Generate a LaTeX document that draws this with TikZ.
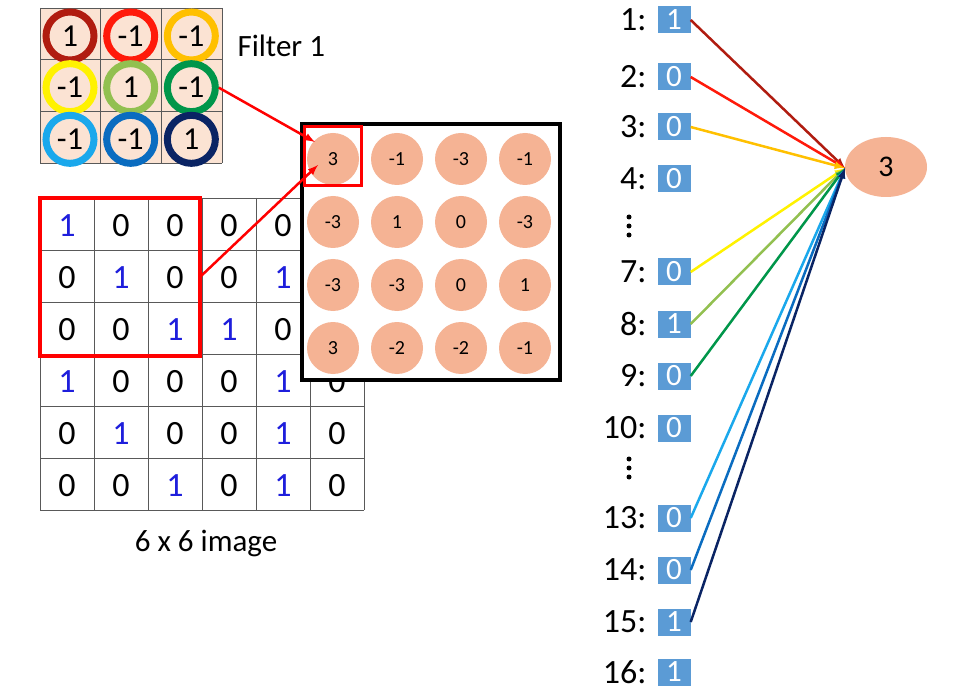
\documentclass[tikz,border=0pt]{standalone}
\usepackage{fontspec}
\setmainfont{Carlito}
\usetikzlibrary{positioning,calc,shapes.geometric}
\definecolor{cA}{HTML}{B01C10}
\definecolor{cB}{HTML}{FF1A0A}
\definecolor{cC}{HTML}{FFC000}
\definecolor{cD}{HTML}{FFF200}
\definecolor{cE}{HTML}{92C050}
\definecolor{cF}{HTML}{00964A}
\definecolor{cG}{HTML}{1AA8EC}
\definecolor{cH}{HTML}{0A6CC0}
\definecolor{cI}{HTML}{0A2464}
\definecolor{peach}{HTML}{FBE3D3}
\definecolor{salmon}{HTML}{F5B394}
\definecolor{boxblue}{HTML}{5B9BD5}
\definecolor{digblue}{HTML}{1E1EDC}
\tikzset{
    ring/.style={circle, draw=#1, line width=7pt, fill=peach, minimum size=48pt, inner sep=0pt, font=\fontsize{32}{32}\selectfont},
    fmap/.style={circle, fill=salmon, minimum size=52pt, inner sep=0pt, font=\fontsize{20}{20}\selectfont},
    pix/.style={font=\fontsize{34}{34}\selectfont},
    inbox/.style={fill=boxblue, text=white, minimum width=33pt, minimum height=27pt, inner sep=0pt, font=\fontsize{31}{31}\selectfont},
    idx/.style={anchor=east, font=\fontsize{34}{34}\selectfont},
    vdot/.style={circle, fill=black, inner sep=0pt, minimum size=5pt},
    redarrow/.style={red, line width=2.5pt, -latex},
}
\begin{document}
\begin{tikzpicture}[x=1pt,y=-1pt]
    \useasboundingbox[fill=white] (0,0) rectangle (968,700);
    % filter
    \fill[peach] (40,8) rectangle (222,163);
    \foreach \k in {0,...,3}{
        \draw[gray!70!black] (40+60.67*\k,8) -- (40+60.67*\k,163);
        \draw[gray!70!black] (40,8+51.67*\k) -- (222,8+51.67*\k);
    }
    \foreach \v/\c [count=\i from 0] in {1/cA,-1/cB,-1/cC,-1/cD,1/cE,-1/cF,-1/cG,-1/cH,1/cI}{
        \pgfmathsetmacro\cx{70+60.67*mod(\i,3)}
        \pgfmathsetmacro\cy{36+51.67*floor(\i/3)}
        \node[ring=\c] (f\i) at (\cx,\cy) {\v};
    }
    \node[anchor=west, font=\fontsize{31}{31}\selectfont] (ftitle) at (234,46) {Filter 1};
    % image
    \foreach \k in {0,...,6}{
        \draw[gray!70!black] (40+54*\k,198) -- (40+54*\k,510);
        \draw[gray!70!black] (40,198+52*\k) -- (364,198+52*\k);
    }
    \foreach \row [count=\r from 0] in {{1,0,0,0,0,1},{0,1,0,0,1,0},{0,0,1,1,0,0},{1,0,0,0,1,0},{0,1,0,0,1,0},{0,0,1,0,1,0}}{
        \foreach \v [count=\c from 0] in \row {
            \ifnum\v=1 \def\tc{digblue}\else\def\tc{black}\fi
            \pgfmathtruncatemacro\hid{(\c==5)&&(\r<3)}
            \ifnum\hid=0
                \node[pix, text=\tc] (p\r\c) at (67+54*\c, 226+52*\r) {\v};
            \fi
        }
    }
    \draw[red, line width=4pt] (40,198) rectangle (200,356);
    \node[font=\fontsize{31}{31}\selectfont] (imgtitle) at (206,543) {6 x 6 image};
    % feature map
    \draw[line width=4pt, fill=white] (302,124) rectangle (560,380);
    \foreach \row [count=\r from 0] in {{3,-1,-3,-1},{-3,1,0,-3},{-3,-3,0,1},{3,-2,-2,-1}}{
        \foreach \v [count=\c from 0] in \row {
            \node[fmap] (m\r\c) at (333+64*\c, 159+63*\r) {\v};
        }
    }
    \draw[red, line width=3pt] (304,127) rectangle (361,186);
    \coordinate (t1) at (315,142);
    \coordinate (t2) at (318,165);
    \coordinate (s2) at (200,277);
    \draw[redarrow] (f5.east) -- (t1);
    \draw[redarrow] (s2) -- (t2);
    % flattened input
    \node[ellipse, fill=salmon, minimum width=82pt, minimum height=60pt, font=\fontsize{30}{30}\selectfont] (out) at (886,167) {3};
    \foreach \n/\v/\y in {1/1/20,2/0/77,3/0/127,4/0/179,7/0/272,8/1/324,9/0/376,10/0/428,13/0/518,14/0/570,15/1/622,16/1/672}{
        \node[inbox] (b\n) at (674,\y) {\v};
        \node[idx] (l\n) at (650,\y) {\n:};
    }
    \foreach \y in {217,226,235,459,468,477}{
        \node[vdot] at (629,\y) {};
    }
    \coordinate (hit) at (845,168);
    \foreach \n/\c in {1/cA,2/cB,3/cC,7/cD,8/cE,9/cF,13/cG,14/cH,15/cI}{
        \draw[\c, line width=2.5pt, -latex] (b\n.east) -- (hit);
    }
\end{tikzpicture}
\end{document}
